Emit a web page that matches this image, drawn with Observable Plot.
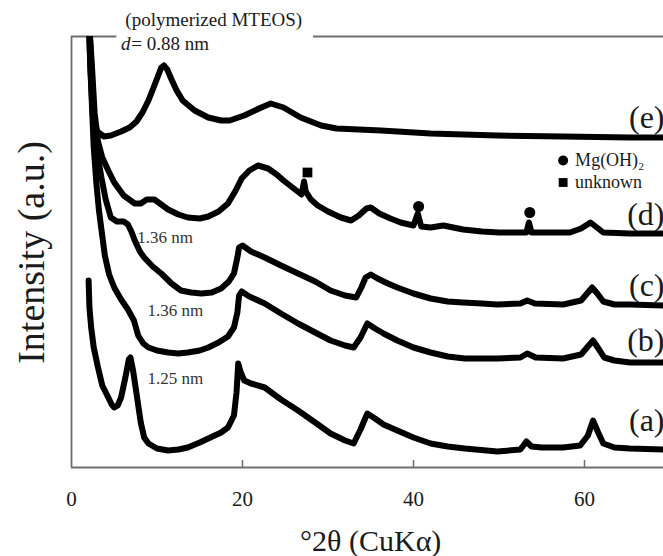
<!DOCTYPE html>
<html>
<head>
<meta charset="utf-8">
<script src="https://cdn.jsdelivr.net/npm/d3@7"></script>
<script src="https://cdn.jsdelivr.net/npm/@observablehq/plot@0.6"></script>
<style>
  html, body { margin: 0; padding: 0; background: white; }
  #chart { width: 663px; height: 556px; }
  #chart svg, #chart svg text { font-family: "Liberation Serif", "Times New Roman", serif !important; }
</style>
</head>
<body>
<div id="chart"></div>
<script>
// ---- data: [2θ (deg), intensity (a.u., stacked)] ----
const curveE = [[2.05,440],[2.2,400],[2.5,352],[3.0,336],[3.8,331],[4.6,332],[5.8,336],[6.8,340],[7.6,346],[8.3,355],[9.0,367],[9.6,380],[10.1,391],[10.5,400],[10.8,402],[11.2,398],[11.7,388],[12.3,377],[13.0,367],[14.4,357],[16.0,350],[17.5,347],[18.5,347],[20.2,352],[22.2,360],[23.3,364],[24.8,360],[26.8,350],[29.2,342],[31.0,339],[36.2,337],[42.0,334],[49.8,332],[57.5,331],[65.3,330],[69.3,330]];
const curveD = [[2.1,440],[2.4,400],[2.7,355],[3.1,326],[3.6,310],[4.3,297],[5.0,285],[6.1,272],[7.4,264],[8.1,264],[8.8,268],[9.7,268],[10.5,263],[11.3,258],[12.5,253],[13.6,250],[15.0,249],[16.0,251],[17.2,256],[18.3,264],[19.2,277],[19.9,289],[20.8,297],[21.8,302],[23.0,299],[24.0,293],[24.8,287],[26.0,279],[26.9,273],[27.2,286],[27.4,276],[28.0,268],[28.8,262],[30.0,256],[31.5,250],[32.7,247],[33.6,252],[34.5,259],[35.0,260],[36.0,254],[37.3,249],[38.5,245],[40.0,242],[40.5,254],[40.9,241],[42.0,240],[43.5,242],[45.8,238],[48.0,236],[50.0,235],[53.2,235],[53.5,245],[53.8,235],[55.6,235],[58.3,235],[59.6,239],[60.7,245],[61.6,239],[62.2,235],[65.3,234],[69.3,234]];
const curveC = [[2.1,440],[2.4,390],[2.7,340],[3.1,310],[3.5,290],[4.0,268],[4.6,250],[5.3,246],[6.1,246],[6.6,243],[7.0,236],[7.4,227],[8.0,216],[8.5,210],[9.5,201],[10.5,194],[11.7,184],[12.8,177],[14.0,175],[15.2,174],[16.4,175],[17.5,179],[18.4,186],[19.0,194],[19.4,210],[19.6,220],[20.0,222],[21.0,216],[22.6,210],[24.5,202],[26.5,194],[28.5,186],[30.3,177],[32.0,172],[33.3,170],[33.9,180],[34.4,190],[35.0,193],[35.8,189],[37.0,184],[38.1,180],[40.0,174],[42.0,169],[44.0,166],[45.8,165],[48.0,164],[49.8,163],[52.5,164],[53.3,167],[54.2,164],[57.5,163],[59.6,167],[60.3,174],[60.9,180],[61.5,174],[62.2,166],[63.5,163],[65.3,163],[69.3,162]];
const curveB = [[2.05,440],[2.3,380],[2.6,320],[2.9,285],[3.2,258],[3.5,238],[3.9,212],[4.4,193],[5.0,180],[5.8,168],[6.6,158],[7.3,147],[7.8,132],[8.4,124],[9.0,120],[10.0,117],[11.3,115],[12.5,114],[13.6,115],[15.0,117],[16.0,120],[17.2,125],[18.3,131],[19.0,140],[19.4,155],[19.6,172],[19.9,176],[20.8,171],[22.6,164],[24.5,154],[26.5,144],[28.5,135],[30.3,127],[32.0,122],[33.0,120],[33.8,130],[34.6,144],[35.5,139],[36.5,134],[38.1,127],[40.0,120],[42.0,115],[44.0,111],[46.0,109],[49.8,109],[52.5,110],[53.3,114],[54.3,110],[57.5,109],[59.6,113],[60.3,120],[61.0,127],[61.7,118],[62.3,110],[63.5,107],[65.3,105],[69.3,105]];
const curveA = [[2.0,187],[2.1,160],[2.3,140],[2.6,120],[3.1,100],[3.6,82],[4.3,70],[4.7,63],[5.0,60],[5.4,62],[5.8,70],[6.3,90],[6.7,108],[6.9,110],[7.2,97],[7.5,80],[8.1,45],[8.5,30],[9.0,24],[10.0,19],[11.3,17],[12.5,18],[13.6,20],[15.0,25],[16.0,29],[17.5,35],[18.3,40],[19.0,52],[19.3,75],[19.5,104],[19.8,95],[20.2,87],[21.0,84],[22.6,80],[24.5,68],[26.5,57],[28.5,45],[30.3,34],[32.0,27],[33.0,24],[33.8,38],[34.6,54],[35.5,49],[36.5,43],[38.1,37],[40.0,30],[42.0,24],[44.0,21],[46.0,19],[49.8,16],[52.5,18],[53.2,26],[53.8,21],[55.0,20],[57.5,20],[59.5,22],[60.4,32],[61.0,47],[61.6,35],[62.2,24],[63.5,20],[65.3,19],[69.3,18]];

const curveNames = ["(a)", "(b)", "(c)", "(d)", "(e)"];
const curveLabelY = [47, 127, 182, 253, 350];
const xTicks = [0, 20, 40, 60];

const mgOHPeaks = [[40.6, 261], [53.6, 255]];
const unknownPeaks = [[27.6, 295]];
const dNotes = [
  {x: 7.7, y: 230, text: "1.36 nm"},
  {x: 8.9, y: 157, text: "1.36 nm"},
  {x: 8.9, y: 89, text: "1.25 nm"}
];
const legendItems = [
  {x: 57.5, y: 307, text: "Mg(OH)₂", symbol: "circle"},
  {x: 57.5, y: 285, text: "unknown", symbol: "square"}
];

const X_MAX = 69.24, Y_MAX = 431;
const font = "Liberation Serif, Times New Roman, serif";
const axisGrey = "#6e6e6e";
const ink = "#1a1a1a";

const curves = [curveA, curveB, curveC, curveD, curveE];
const labelData = curveNames.map((n, i) => ({name: n, y: curveLabelY[i]}));
const T = {fontFamily: font, fill: ink, lineAnchor: "middle"};

const chart = Plot.plot({
  width: 663,
  height: 556,
  marginLeft: 71,
  marginRight: 0,
  marginTop: 36,
  marginBottom: 89,
  style: {fontFamily: font, background: "white", overflow: "visible"},
  x: {domain: [0, X_MAX], axis: null},
  y: {domain: [0, Y_MAX], axis: null},
  marks: [
    // frame pieces
    Plot.ruleY([0], {stroke: axisGrey, strokeWidth: 1.8}),
    Plot.ruleX([0], {y1: 0, y2: Y_MAX, stroke: axisGrey, strokeWidth: 1.8}),
    Plot.ruleY([Y_MAX], {x1: 0, x2: 5.3, stroke: axisGrey, strokeWidth: 1.8}),
    Plot.ruleY([Y_MAX], {x1: 28.3, x2: X_MAX, stroke: axisGrey, strokeWidth: 1.8}),
    // inward ticks
    Plot.ruleX(xTicks.slice(1), {y1: 0, y2: 7, stroke: axisGrey, strokeWidth: 1.5}),
    // tick labels
    Plot.text(xTicks, {...T, x: d => d, y: -32, text: d => String(d), fontSize: 21}),
    // curves
    ...curves.map(c => Plot.line(c, {x: d => d[0], y: d => d[1], stroke: "black", strokeWidth: 6, strokeLinejoin: "round", strokeLinecap: "round", clip: true})),
    // curve labels
    Plot.text(labelData, {...T, x: X_MAX, y: "y", text: "name", textAnchor: "end", dx: 1, fontSize: 32}),
    // peak markers
    Plot.dot(mgOHPeaks, {x: d => d[0], y: d => d[1], r: 5.5, fill: "black", symbol: "circle"}),
    Plot.dot(unknownPeaks, {x: d => d[0], y: d => d[1], r: 5.5, fill: "black", symbol: "square"}),
    // legend
    Plot.dot(legendItems, {x: "x", y: "y", symbol: "symbol", r: 5, fill: "black"}),
    Plot.text(legendItems, {...T, x: "x", y: "y", text: "text", dx: 12, textAnchor: "start", fontSize: 18}),
    // d-spacing notes
    Plot.text(dNotes, {...T, x: "x", y: "y", text: "text", textAnchor: "start", fontSize: 17, fill: "#333"}),
    Plot.text(["(polymerized MTEOS)"], {...T, x: 6.3, y: 448, text: d => d, textAnchor: "start", fontSize: 19}),
    Plot.text(["d"], {...T, x: 5.8, y: 424, text: d => d, textAnchor: "start", fontSize: 19, fontStyle: "italic"}),
    Plot.text(["= 0.88 nm"], {...T, x: 7.0, y: 424, text: d => d, textAnchor: "start", fontSize: 19}),
    // axis titles
    Plot.text(["°2θ (CuKα)"], {...T, x: 35.0, y: -74, text: d => d, fontSize: 30}),
    Plot.text(["Intensity (a.u.)"], {...T, frameAnchor: "left", dx: -40, y: 215, text: d => d, rotate: -90, textAnchor: "middle", fontSize: 38})
  ]
});
document.getElementById("chart").appendChild(chart);
</script>
</body>
</html>
